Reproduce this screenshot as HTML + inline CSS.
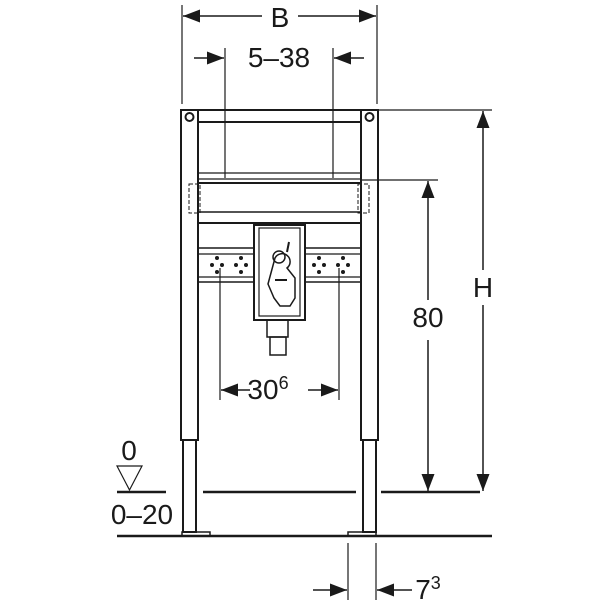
<!DOCTYPE html>
<html><head><style>body{margin:0;background:#fff}svg{display:block}text{font-family:"Liberation Sans",sans-serif;fill:#1a1a1a}</style></head>
<body>
<svg width="600" height="600" viewBox="0 0 600 600" xmlns="http://www.w3.org/2000/svg">
<defs>
<marker id="a" markerWidth="17" markerHeight="13" refX="17" refY="6.5" orient="auto" markerUnits="userSpaceOnUse" viewBox="0 0 17 13"><path d="M0,0 L17,6.5 L0,13z" fill="#1a1a1a"/></marker>
</defs>
<g stroke="#1a1a1a" fill="none" stroke-width="1.2">
<line x1="182" y1="5" x2="182" y2="104"/><line x1="377" y1="5" x2="377" y2="104"/>
<line x1="262" y1="16" x2="183" y2="16" marker-end="url(#a)" stroke-width="1.5"/>
<line x1="298" y1="16" x2="376" y2="16" marker-end="url(#a)" stroke-width="1.5"/>
<line x1="225" y1="48" x2="225" y2="178"/><line x1="333" y1="48" x2="333" y2="178"/>
<line x1="194" y1="58" x2="224" y2="58" marker-end="url(#a)" stroke-width="1.5"/>
<line x1="364" y1="58" x2="334" y2="58" marker-end="url(#a)" stroke-width="1.5"/>
<line x1="378" y1="110" x2="492" y2="110"/>
<line x1="483" y1="270" x2="483" y2="111" marker-end="url(#a)" stroke-width="1.5"/>
<line x1="483" y1="305" x2="483" y2="491" marker-end="url(#a)" stroke-width="1.5"/>
<line x1="362" y1="180" x2="438" y2="180"/>
<line x1="428" y1="300" x2="428" y2="181" marker-end="url(#a)" stroke-width="1.5"/>
<line x1="428" y1="340" x2="428" y2="491" marker-end="url(#a)" stroke-width="1.5"/>
<line x1="220" y1="268" x2="220" y2="400"/><line x1="339" y1="268" x2="339" y2="400"/>
<line x1="250" y1="390" x2="221" y2="390" marker-end="url(#a)" stroke-width="1.5"/>
<line x1="308" y1="390" x2="338" y2="390" marker-end="url(#a)" stroke-width="1.5"/>
<line x1="203" y1="492" x2="356" y2="492" stroke-width="2.5"/>
<line x1="381" y1="492" x2="480" y2="492" stroke-width="2.5"/>
<line x1="117" y1="492" x2="166" y2="492" stroke-width="2.5"/>
<line x1="117" y1="536" x2="492" y2="536" stroke-width="2.5"/>
<path d="M117,466 L142,466 L129.5,490z"/>
<line x1="348" y1="543" x2="348" y2="600"/><line x1="376" y1="543" x2="376" y2="600"/>
<line x1="313" y1="590" x2="347" y2="590" marker-end="url(#a)" stroke-width="1.5"/>
<line x1="412" y1="590" x2="377" y2="590" marker-end="url(#a)" stroke-width="1.5"/>
<rect x="181" y="110" width="17" height="330" stroke-width="2"/>
<rect x="361" y="110" width="17" height="330" stroke-width="2"/>
<rect x="183" y="440" width="13" height="92" stroke-width="2"/>
<rect x="363" y="440" width="13" height="92" stroke-width="2"/>
<rect x="182" y="532" width="28" height="4" stroke-width="1.5"/>
<rect x="348" y="532" width="28" height="4" stroke-width="1.5"/>
<circle cx="189.5" cy="117" r="4" stroke-width="2"/><circle cx="369.5" cy="117" r="4" stroke-width="2"/>
<line x1="198" y1="110" x2="361" y2="110" stroke-width="2"/>
<line x1="198" y1="122" x2="361" y2="122" stroke-width="2"/>
<line x1="198" y1="173" x2="361" y2="173"/>
<line x1="198" y1="179" x2="361" y2="179"/>
<line x1="198" y1="183" x2="361" y2="183" stroke-width="2"/>
<line x1="198" y1="212" x2="361" y2="212" stroke-width="1.5"/>
<line x1="198" y1="223" x2="361" y2="223" stroke-width="2"/>
<rect x="189" y="184" width="11" height="29" stroke-dasharray="4,2" stroke-width="1"/>
<rect x="358" y="184" width="11" height="29" stroke-dasharray="4,2" stroke-width="1"/>
<line x1="198" y1="248" x2="254" y2="248" stroke-width="1.5"/><line x1="198" y1="254" x2="254" y2="254"/>
<line x1="198" y1="277" x2="254" y2="277"/><line x1="198" y1="282" x2="254" y2="282" stroke-width="1.5"/>
<line x1="305" y1="248" x2="361" y2="248" stroke-width="1.5"/><line x1="305" y1="254" x2="361" y2="254"/>
<line x1="305" y1="277" x2="361" y2="277"/><line x1="305" y1="282" x2="361" y2="282" stroke-width="1.5"/>
<rect x="254" y="225" width="51" height="95" stroke-width="2"/>
<rect x="259" y="228" width="41" height="88"/>
<path d="M275,258 a8,8 0 1,1 12,10 l8,10 l0,20 l-5,8 l-10,0 l-6,-8 l-6,-14 z" stroke-width="1.5"/>
<circle cx="279" cy="257" r="6" stroke-width="1.5"/>
<line x1="287" y1="252" x2="289" y2="242" stroke-width="2"/>
<line x1="275" y1="280" x2="287" y2="280" stroke-width="2"/>
<rect x="267" y="320" width="21" height="17" stroke-width="1.5"/>
<rect x="270" y="337" width="16" height="18" stroke-width="1.5"/>
</g>
<g fill="#1a1a1a">
<circle cx="212" cy="265" r="2"/><circle cx="222" cy="265" r="2"/><circle cx="236" cy="265" r="2"/><circle cx="246" cy="265" r="2"/>
<circle cx="217" cy="258" r="2"/><circle cx="217" cy="272" r="2"/><circle cx="241" cy="258" r="2"/><circle cx="241" cy="272" r="2"/>
<circle cx="314" cy="265" r="2"/><circle cx="324" cy="265" r="2"/><circle cx="338" cy="265" r="2"/><circle cx="348" cy="265" r="2"/>
<circle cx="319" cy="258" r="2"/><circle cx="319" cy="272" r="2"/><circle cx="343" cy="258" r="2"/><circle cx="343" cy="272" r="2"/>
</g>
<g font-size="28" text-anchor="middle">
<text x="280" y="27">B</text>
<text x="279" y="67">5–38</text>
<text x="483" y="297">H</text>
<text x="428" y="327">80</text>
<text x="268" y="399">30<tspan font-size="18" dy="-10">6</tspan></text>
<text x="129" y="460">0</text>
<text x="142" y="524">0–20</text>
<text x="428" y="599">7<tspan font-size="18" dy="-10">3</tspan></text>
</g>
</svg>
</body></html>
